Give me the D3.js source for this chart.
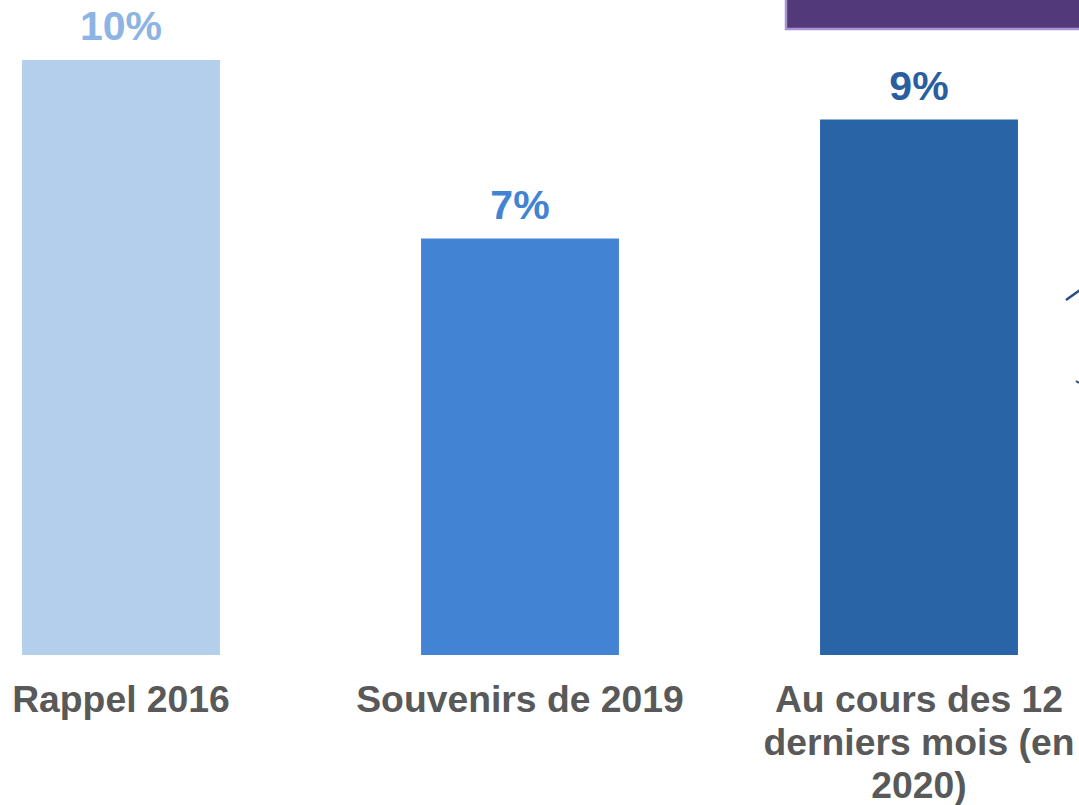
<!DOCTYPE html>
<html>
<head>
<meta charset="utf-8">
<script src="https://cdn.jsdelivr.net/npm/d3@7"></script>
<style>
  html, body { margin: 0; padding: 0; background: #fff; }
  svg { display: block; }
</style>
</head>
<body>
<svg id="chart" width="1079" height="805"></svg>
<script>
'use strict';

// chart data
const categories = ['Rappel 2016', 'Souvenirs de 2019', 'Au cours des 12 derniers mois (en 2020)'];
const labelLines = [['Rappel 2016'], ['Souvenirs de 2019'], ['Au cours des 12', 'derniers mois (en', '2020)']];
const values = [10, 7, 9];
const valueLabels = ['10%', '7%', '9%'];

const barColors = ['#b3cfec', '#4284d3', '#2964a7'];
const valueColors = ['#8db4e3', '#4283d2', '#2a5f9f'];

const BASELINE = 655;

const svg = d3.select('#chart');

const x = d3.scaleBand()
  .domain(categories)
  .range([-78.5, 1118.5])
  .paddingInner(0.504)
  .paddingOuter(0.252);

const y = d3.scaleLinear()
  .domain([0, 10])
  .range([BASELINE, 60]);

// bars
svg.append('g').selectAll('rect')
  .data(categories)
  .join('rect')
  .attr('x', d => x(d))
  .attr('y', (d, i) => y(values[i]))
  .attr('width', x.bandwidth())
  .attr('height', (d, i) => BASELINE - y(values[i]))
  .attr('fill', (d, i) => barColors[i]);

// value labels
svg.append('g').selectAll('text')
  .data(categories)
  .join('text')
  .attr('x', d => x(d) + x.bandwidth() / 2)
  .attr('y', (d, i) => y(values[i]) - 20)
  .attr('text-anchor', 'middle')
  .attr('font-family', '"Liberation Sans", Arial, sans-serif')
  .attr('font-weight', 'bold')
  .attr('font-size', 41)
  .attr('fill', (d, i) => valueColors[i])
  .text((d, i) => valueLabels[i]);

// category labels (wrapped)
const catText = svg.append('g').selectAll('text')
  .data(categories)
  .join('text')
  .attr('text-anchor', 'middle')
  .attr('font-family', '"Liberation Sans", Arial, sans-serif')
  .attr('font-weight', 'bold')
  .attr('font-size', 37.3)
  .attr('fill', '#595959');

catText.each(function(d, i) {
  d3.select(this).selectAll('tspan')
    .data(labelLines[i])
    .join('tspan')
    .attr('x', x(d) + x.bandwidth() / 2)
    .attr('y', (l, j) => 712 + j * 43)
    .text(l => l);
});

// purple banner cut off at the top right
svg.append('rect')
  .attr('x', 786)
  .attr('y', -10)
  .attr('width', 320)
  .attr('height', 39)
  .attr('fill', '#523a7a')
  .attr('stroke', '#a993d3')
  .attr('stroke-width', 2.5);

// pieces of a connector arrow leaving the frame on the right
svg.append('line')
  .attr('x1', 1066).attr('y1', 300)
  .attr('x2', 1090).attr('y2', 283)
  .attr('stroke', '#254e86')
  .attr('stroke-width', 2.5);

svg.append('line')
  .attr('x1', 1076).attr('y1', 381)
  .attr('x2', 1079).attr('y2', 383)
  .attr('stroke', '#254e86')
  .attr('stroke-width', 2);
</script>
</body>
</html>
